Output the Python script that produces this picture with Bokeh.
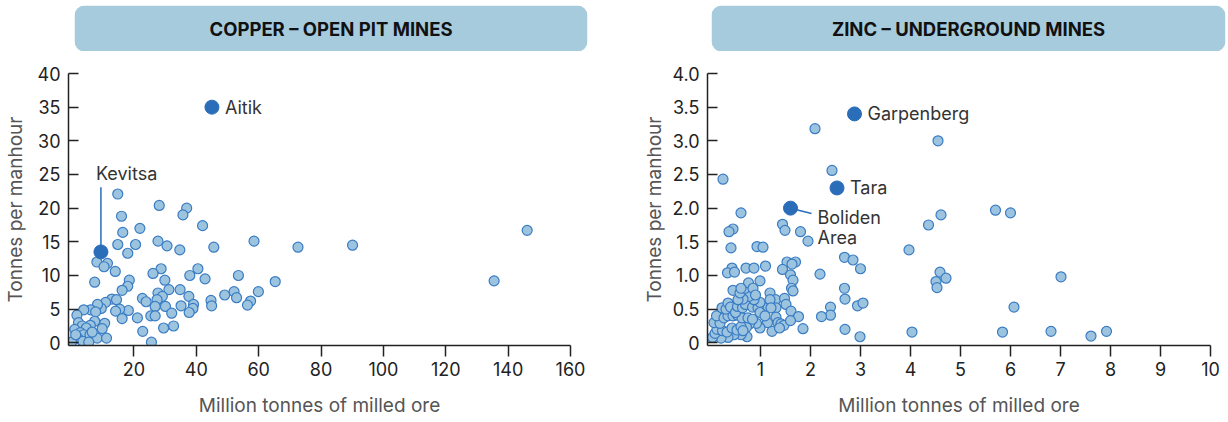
from bokeh.plotting import figure
from bokeh.layouts import row, column
from bokeh.models import Range1d, FixedTicker, BoxAnnotation, Label, ColumnDataSource
from bokeh.core.properties import value
from bokeh.embed import file_html
from bokeh.resources import INLINE

# ---------------- data ----------------
copper_x = [14.8, 28.1, 36.9, 35.7, 16.0, 42.0, 21.9, 16.4, 27.7, 30.6, 34.7, 45.6, 58.5, 14.8,
            20.5, 18.0, 8.1, 11.5, 10.4, 14.0, 28.7, 26.1, 40.5, 37.9, 53.5, 42.8, 29.9, 7.4,
            18.5, 18.0, 16.2, 34.8, 31.2, 27.7, 29.1, 37.6, 52.1, 49.1, 52.9, 59.9, 65.3, 27.4,
            22.7, 23.9, 12.9, 14.4, 10.9, 44.7, 57.4, 56.4, 44.9, 35.1, 30.1, 26.8, 39.1, 38.9,
            37.7, 32.1, 18.2, 15.4, 14.1, 9.5, 8.3, 6.1, 3.9, 7.7, 1.7, 25.4, 26.8, 21.1, 16.2,
            7.4, 2.2, 10.6, 32.7, 29.5, 22.8, 6.0, 3.4, 1.0, 4.7, 9.8, 2.8, 3.8, 5.9, 2.0, 3.6,
            8.2, 11.2, 5.5, 0.0, 25.6, 1.3, 6.6, 72.6, 90.1, 135.5, 146.1]
copper_y = [22.1, 20.4, 20.0, 19.0, 18.8, 17.4, 17.0, 16.4, 15.1, 14.4, 13.8, 14.2, 15.1, 14.6,
            14.6, 13.3, 12.0, 11.8, 11.3, 10.6, 11.0, 10.3, 11.0, 10.0, 10.0, 9.5, 9.3, 9.0,
            9.3, 8.4, 7.8, 7.9, 7.9, 7.4, 6.9, 6.9, 7.6, 7.1, 6.7, 7.6, 9.1, 6.4,
            6.6, 6.1, 6.5, 6.4, 6.0, 6.3, 6.2, 5.6, 5.5, 5.5, 5.4, 5.4, 5.7, 5.1,
            4.5, 4.4, 4.8, 5.0, 4.7, 5.1, 5.7, 4.9, 4.9, 4.6, 4.1, 4.0, 4.0, 3.7, 3.6,
            3.2, 3.0, 2.9, 2.5, 2.2, 1.7, 2.6, 2.5, 2.0, 2.2, 2.1, 1.5, 1.2, 1.2, 0.7, 0.2,
            0.7, 0.7, 0.1, 0.1, 0.1, 1.2, 1.6, 14.2, 14.5, 9.2, 16.7]
copper_named = ["Aitik", "Kevitsa"]
copper_named_x = [45.0, 9.4]
copper_named_y = [35.0, 13.5]

zinc_x = [0.25, 2.09, 2.43, 0.61, 0.45, 0.37, 1.44, 1.49, 1.80, 1.95, 0.41, 0.93, 1.05, 1.53,
          1.70, 1.63, 2.68, 2.85, 3.00, 2.19, 1.44, 1.60, 1.65, 1.10, 0.71, 0.87, 0.43, 0.34,
          0.48, 0.99, 0.45, 2.68, 2.69, 2.94, 3.05, 2.40, 2.40, 2.22, 2.69, 1.85, 2.99, 1.62,
          1.65, 1.19, 1.30, 1.48, 1.51, 1.61, 1.76, 1.31, 1.15, 1.31, 1.35, 1.41, 1.47, 1.60,
          1.23, 1.38, 1.14, 0.99, 0.92, 0.78, 0.68, 0.72, 0.73, 0.61, 0.47, 0.35, 0.21, 0.04,
          0.09, 0.13, 0.24, 0.33, 0.43, 0.53, 0.61, 0.65, 0.07, 0.19, 0.12, 0.27, 0.35, 0.45,
          0.54, 0.63, 0.75, 0.84, 0.23, 0.31, 0.35, 0.40, 0.50, 0.54, 0.64, 0.70, 0.84, 0.95,
          0.99, 0.87, 0.77, 0.65, 0.55, 0.59, 0.69, 0.76, 0.85, 0.90, 0.61, 1.19, 1.21, 0.99,
          1.09, 4.55, 5.70, 6.00, 4.61, 4.36, 3.97, 4.59, 4.71, 4.51, 4.53, 7.01, 6.07, 4.03,
          5.84, 6.81, 7.61, 7.92]
zinc_y = [2.43, 3.18, 2.56, 1.93, 1.69, 1.65, 1.76, 1.67, 1.65, 1.51, 1.41, 1.43, 1.42, 1.20,
          1.20, 1.17, 1.27, 1.23, 1.10, 1.02, 1.09, 1.01, 0.93, 1.14, 1.11, 1.11, 1.11, 1.04,
          1.05, 0.92, 0.78, 0.81, 0.65, 0.55, 0.59, 0.53, 0.41, 0.39, 0.20, 0.21, 0.09, 0.81,
          0.77, 0.74, 0.64, 0.66, 0.57, 0.47, 0.39, 0.52, 0.53, 0.38, 0.30, 0.28, 0.26, 0.33,
          0.17, 0.22, 0.30, 0.22, 0.29, 0.28, 0.32, 0.23, 0.09, 0.12, 0.12, 0.08, 0.07, 0.08,
          0.14, 0.20, 0.18, 0.16, 0.22, 0.19, 0.24, 0.18, 0.30, 0.29, 0.40, 0.37, 0.40, 0.40,
          0.41, 0.37, 0.37, 0.35, 0.52, 0.50, 0.59, 0.53, 0.45, 0.54, 0.52, 0.57, 0.53, 0.52,
          0.60, 0.64, 0.69, 0.65, 0.64, 0.74, 0.81, 0.89, 0.81, 0.71, 0.81, 0.64, 0.52, 0.45,
          0.40, 3.00, 1.97, 1.93, 1.90, 1.75, 1.38, 1.05, 0.96, 0.91, 0.82, 0.98, 0.53, 0.16,
          0.16, 0.17, 0.10, 0.17]
zinc_named = ["Garpenberg", "Tara", "Boliden\nArea"]
zinc_named_x = [2.88, 2.53, 1.60]
zinc_named_y = [3.40, 2.30, 2.00]

copper_ticks_x = [20, 40, 60, 80, 100, 120, 140, 160]
copper_ticks_y = [0, 5, 10, 15, 20, 25, 30, 35, 40]
zinc_ticks_x = [1, 2, 3, 4, 5, 6, 7, 8, 9, 10]
zinc_ticks_y = [0, 0.5, 1.0, 1.5, 2.0, 2.5, 3.0, 3.5, 4.0]
zinc_tick_labels_y = ["0", "0.5", "1.0", "1.5", "2.0", "2.5", "3.0", "3.5", "4.0"]

titles = ["COPPER – OPEN PIT MINES", "ZINC – UNDERGROUND MINES"]
x_label = "Million tonnes of milled ore"
y_label = "Tonnes per manhour"

# ---------------- style ----------------
FONT = "Inter"
PT_FILL = "#9cc4df"
PT_LINE = "#3a7cc4"
HI = "#2a6db8"
BOX = "#a6cbdd"
ANN = "18px"


def header(width, left, right, title):
    h = figure(width=width, height=51, output_backend="svg", toolbar_location=None,
               x_range=Range1d(0, 1), y_range=Range1d(0, 1),
               x_axis_type=None, y_axis_type=None,
               min_border_left=left, min_border_right=right,
               min_border_top=5, min_border_bottom=0, frame_align=False)
    h.outline_line_color = None
    h.grid.visible = False
    h.add_layout(BoxAnnotation(fill_color=BOX, fill_alpha=1.0, line_color=None,
                               border_radius=10))
    h.add_layout(Label(x=0.5, y=0.5, text=title, text_align="center",
                       text_baseline="middle", text_font=FONT,
                       text_font_style="bold", text_font_size="18.5px",
                       text_color="#111"))
    return h


def make_fig(width, xr, yr, xticks, yticks, mbl, mbr, lab_standoff):
    p = figure(width=width, height=371, output_backend="svg", toolbar_location=None,
               x_range=Range1d(*xr), y_range=Range1d(*yr),
               min_border_left=mbl, min_border_right=mbr, min_border_top=22,
               min_border_bottom=77, frame_align=False)
    p.outline_line_color = None
    p.grid.visible = False
    for ax in (p.xaxis[0], p.yaxis[0]):
        ax.axis_line_color = "#222"
        ax.axis_line_width = 1.5
        ax.major_tick_line_color = "#222"
        ax.major_tick_line_width = 1.5
        ax.minor_tick_line_color = None
        ax.major_label_text_font = FONT
        ax.major_label_text_font_size = "18px"
        ax.major_label_text_color = "#222"
        ax.axis_label_text_font = FONT
        ax.axis_label_text_font_size = "19px"
        ax.axis_label_text_font_style = "normal"
        ax.axis_label_text_color = "#555"
    p.xaxis.ticker = FixedTicker(ticks=xticks)
    p.yaxis.ticker = FixedTicker(ticks=yticks)
    p.xaxis.bounds = (xr[0], xticks[-1])
    p.yaxis.bounds = (yr[0], yticks[-1])
    p.xaxis.major_tick_in = 0
    p.xaxis.major_tick_out = 11
    p.xaxis.major_label_standoff = 5
    p.yaxis.major_tick_in = 10
    p.yaxis.major_tick_out = 0
    p.yaxis.major_label_standoff = 8
    p.xaxis.axis_label = x_label
    p.yaxis.axis_label = y_label
    p.xaxis.axis_label_standoff = 15
    p.yaxis.axis_label_standoff = lab_standoff
    return p


# ---- copper ----
h1 = header(640, 74, 53, titles[0])
p1 = make_fig(640, (-1.0, 160), (-0.4, 40), copper_ticks_x, copper_ticks_y, 67, 70, 8)
p1.scatter(copper_x, copper_y, size=10, fill_color=PT_FILL, line_color=PT_LINE, line_width=1.2)
csrc = ColumnDataSource(dict(x=copper_named_x, y=copper_named_y, name=copper_named))
p1.scatter("x", "y", source=csrc, size=14, fill_color=HI, line_color=HI)
p1.text(x=[copper_named_x[0]], y=[copper_named_y[0]], text=[copper_named[0]],
        x_offset=13, text_baseline="middle", text_align="left",
        text_font=value(FONT), text_font_size=ANN, text_color="#333")
p1.segment(x0=[copper_named_x[1]], y0=[copper_named_y[1]], x1=[copper_named_x[1]],
           y1=[copper_named_y[1] + 9.6], line_color=HI, line_width=1.5)
p1.text(x=[copper_named_x[1]], y=[copper_named_y[1]], text=[copper_named[1]],
        x_offset=-5, y_offset=-68, text_baseline="bottom", text_align="left",
        text_font=value(FONT), text_font_size=ANN, text_color="#333")

# ---- zinc ----
h2 = header(588, 71, 3, titles[1])
p2 = make_fig(588, (-0.06, 10), (-0.04, 4.0), zinc_ticks_x, zinc_ticks_y, 67, 18, 3)
p2.yaxis.major_label_overrides = {t: s for t, s in zip(zinc_ticks_y, zinc_tick_labels_y)}
p2.scatter(zinc_x, zinc_y, size=10, fill_color=PT_FILL, line_color=PT_LINE, line_width=1.2)
p2.scatter(zinc_named_x, zinc_named_y, size=14, fill_color=HI, line_color=HI)
p2.text(x=zinc_named_x[:2], y=zinc_named_y[:2], text=zinc_named[:2],
        x_offset=13, text_baseline="middle", text_align="left",
        text_font=value(FONT), text_font_size=ANN, text_color="#333")
p2.segment(x0=[zinc_named_x[2]], y0=[zinc_named_y[2]], x1=[zinc_named_x[2] + 0.42],
           y1=[zinc_named_y[2] - 0.08], line_color=HI, line_width=1.5)
p2.text(x=[zinc_named_x[2]], y=[zinc_named_y[2]], text=[zinc_named[2]],
        x_offset=27, y_offset=-1, text_baseline="top", text_align="left",
        text_line_height=0.95,
        text_font=value(FONT), text_font_size=ANN, text_color="#333")

layout = row(column(h1, p1), column(h2, p2))
open("out.html", "w").write(file_html(layout, INLINE))
